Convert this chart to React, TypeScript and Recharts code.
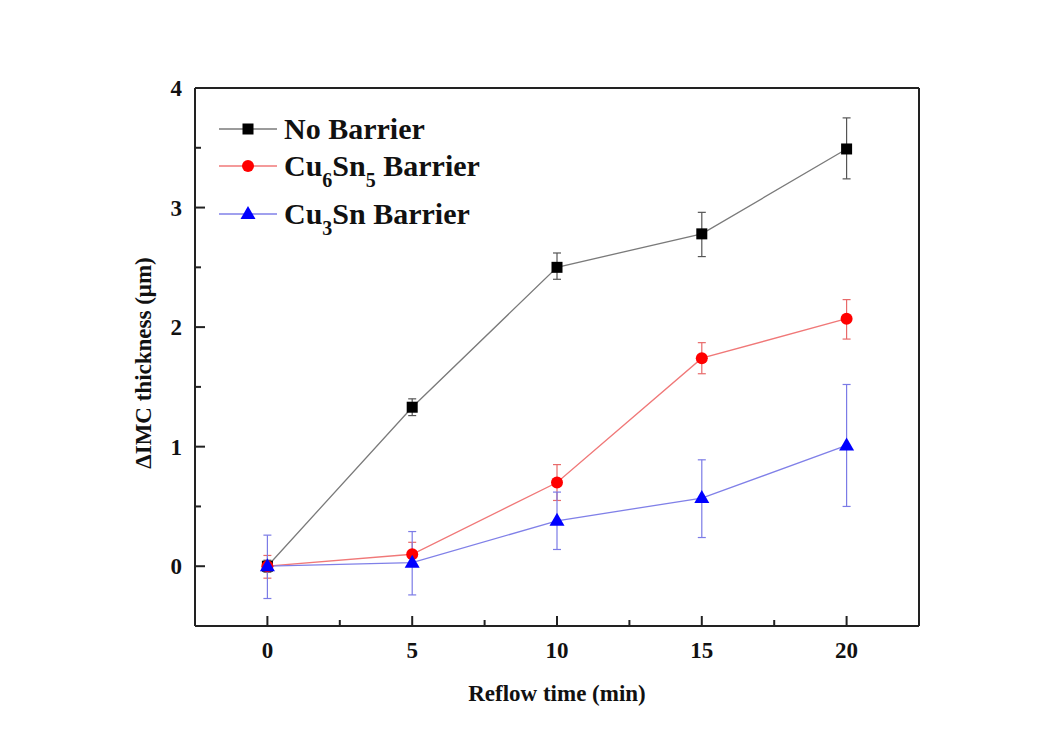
import React from 'react';
import { ComposedChart, Line, XAxis, YAxis, ErrorBar, ReferenceLine, Label } from 'recharts';

// reflow time (min)
const times = [0, 5, 10, 15, 20];

// ΔIMC thickness (µm)
const noBarrier = [0, 1.33, 2.5, 2.78, 3.49];
const noBarrierErrLow = [0.05, 0.07, 0.1, 0.19, 0.25];
const noBarrierErrHigh = [0.05, 0.07, 0.12, 0.18, 0.26];

const cu6sn5 = [0, 0.1, 0.7, 1.74, 2.07];
const cu6sn5ErrLow = [0.1, 0.1, 0.15, 0.13, 0.17];
const cu6sn5ErrHigh = [0.09, 0.1, 0.15, 0.13, 0.16];

const cu3sn = [0, 0.03, 0.38, 0.57, 1.01];
const cu3snErrLow = [0.27, 0.27, 0.24, 0.33, 0.51];
const cu3snErrHigh = [0.26, 0.26, 0.24, 0.32, 0.51];

const xTicks = [0, 2.5, 5, 7.5, 10, 12.5, 15, 17.5, 20];
const yTicks = [0, 0.5, 1, 1.5, 2, 2.5, 3, 3.5, 4];

const data = times.map((t, i) => ({
  t,
  nb: noBarrier[i],
  nbErr: [noBarrierErrLow[i], noBarrierErrHigh[i]],
  c65: cu6sn5[i],
  c65Err: [cu6sn5ErrLow[i], cu6sn5ErrHigh[i]],
  c3: cu3sn[i],
  c3Err: [cu3snErrLow[i], cu3snErrHigh[i]],
}));

const FONT = '"Liberation Serif", "Times New Roman", serif';
const AXIS = '#222';

const BLACK = { line: '#7a7a7a', mark: '#000', err: '#555' };
const RED = { line: '#f07878', mark: '#ff0000', err: '#e86a6a' };
const BLUE = { line: '#8080e8', mark: '#0000ff', err: '#7b7be6' };

const square = (cx: number, cy: number, fill: string, key?: any) => (
  <rect key={key} x={cx - 5.5} y={cy - 5.5} width={11} height={11} fill={fill} />
);
const circle = (cx: number, cy: number, fill: string, key?: any) => (
  <circle key={key} cx={cx} cy={cy} r={6} fill={fill} />
);
const triangle = (cx: number, cy: number, fill: string, key?: any) => (
  <polygon key={key} points={`${cx},${cy - 8} ${cx - 7.5},${cy + 5} ${cx + 7.5},${cy + 5}`} fill={fill} />
);

function XTick(props: any) {
  const { x, y, payload } = props;
  const v = payload.value;
  const major = v % 5 === 0;
  return (
    <g>
      <line x1={x} x2={x} y1={y} y2={y - (major ? 10 : 6)} stroke={AXIS} strokeWidth={2} />
      {major && (
        <text x={x} y={y + 32} textAnchor="middle" fontFamily={FONT} fontWeight="bold" fontSize={23} fill="#111">
          {v}
        </text>
      )}
    </g>
  );
}

function YTick(props: any) {
  const { x, y, payload } = props;
  const v = payload.value;
  const major = Number.isInteger(v);
  return (
    <g>
      <line x1={x} x2={x + (major ? 10 : 6)} y1={y} y2={y} stroke={AXIS} strokeWidth={2} />
      {major && (
        <text x={x - 13} y={y + 8} textAnchor="end" fontFamily={FONT} fontWeight="bold" fontSize={23} fill="#111">
          {v}
        </text>
      )}
    </g>
  );
}

const sub = (s: string) => (
  <span style={{ fontSize: 20, verticalAlign: '-0.55em', lineHeight: 0 }}>{s}</span>
);

function LegendRow({ top, color, marker, children }: any) {
  return (
    <div style={{ position: 'absolute', left: 216, top, height: 36, display: 'flex', alignItems: 'center' }}>
      <svg width={64} height={36} style={{ display: 'block' }}>
        <line x1={3} x2={61} y1={18} y2={18} stroke={color.line} strokeWidth={1.3} />
        {marker(32, 18, color.mark)}
      </svg>
      <span style={{ marginLeft: 4, fontFamily: FONT, fontWeight: 'bold', fontSize: 30, lineHeight: '36px', color: '#111', whiteSpace: 'nowrap' }}>
        {children}
      </span>
    </div>
  );
}

export default function App() {
  return (
    <div style={{ position: 'absolute', left: 0, top: 0, width: 1059, height: 744, background: '#fff' }}>
      <ComposedChart width={1059} height={744} data={data} margin={{ top: 88, right: 140, bottom: 58, left: 135 }}>
        <XAxis
          dataKey="t"
          type="number"
          domain={[-2.5, 22.5]}
          ticks={xTicks}
          interval={0}
          height={60}
          tickSize={0}
          tickMargin={0}
          tickLine={false}
          tick={<XTick />}
          axisLine={{ stroke: AXIS, strokeWidth: 2 }}
        >
          <Label
            content={(p: any) => {
              const vb = p.viewBox;
              return (
                <text x={vb.x + vb.width / 2} y={vb.y + 75} textAnchor="middle" fontFamily={FONT} fontWeight="bold" fontSize={23} fill="#111">
                  Reflow time (min)
                </text>
              );
            }}
          />
        </XAxis>
        <YAxis
          type="number"
          domain={[-0.5, 4]}
          ticks={yTicks}
          interval={0}
          width={60}
          tickSize={0}
          tickMargin={0}
          tickLine={false}
          tick={<YTick />}
          axisLine={{ stroke: AXIS, strokeWidth: 2 }}
          allowDataOverflow
        >
          <Label
            content={(p: any) => {
              const vb = p.viewBox;
              const cx = vb.x + 8;
              const cy = vb.y + vb.height / 2 + 6;
              return (
                <text x={cx} y={cy} transform={`rotate(-90 ${cx} ${cy})`} textAnchor="middle" dominantBaseline="central" fontFamily={FONT} fontWeight="bold" fontSize={23} fill="#111">
                  ΔIMC thickness (μm)
                </text>
              );
            }}
          />
        </YAxis>
        <ReferenceLine y={4} stroke={AXIS} strokeWidth={2} />
        <ReferenceLine x={22.5} stroke={AXIS} strokeWidth={2} />

        <Line dataKey="nb" stroke={BLACK.line} strokeWidth={1.3} isAnimationActive={false}
          dot={(p: any) => square(p.cx, p.cy, BLACK.mark, `nb${p.index}`)} activeDot={false}>
          <ErrorBar dataKey="nbErr" direction="y" width={4} stroke={BLACK.err} strokeWidth={1.2} isAnimationActive={false} />
        </Line>
        <Line dataKey="c65" stroke={RED.line} strokeWidth={1.3} isAnimationActive={false}
          dot={(p: any) => circle(p.cx, p.cy, RED.mark, `c65${p.index}`)} activeDot={false}>
          <ErrorBar dataKey="c65Err" direction="y" width={4} stroke={RED.err} strokeWidth={1.2} isAnimationActive={false} />
        </Line>
        <Line dataKey="c3" stroke={BLUE.line} strokeWidth={1.3} isAnimationActive={false}
          dot={(p: any) => triangle(p.cx, p.cy, BLUE.mark, `c3${p.index}`)} activeDot={false}>
          <ErrorBar dataKey="c3Err" direction="y" width={4} stroke={BLUE.err} strokeWidth={1.2} isAnimationActive={false} />
        </Line>
      </ComposedChart>

      <LegendRow top={111} color={BLACK} marker={square}>No Barrier</LegendRow>
      <LegendRow top={148} color={RED} marker={circle}>Cu{sub('6')}Sn{sub('5')} Barrier</LegendRow>
      <LegendRow top={196} color={BLUE} marker={triangle}>Cu{sub('3')}Sn Barrier</LegendRow>
    </div>
  );
}
